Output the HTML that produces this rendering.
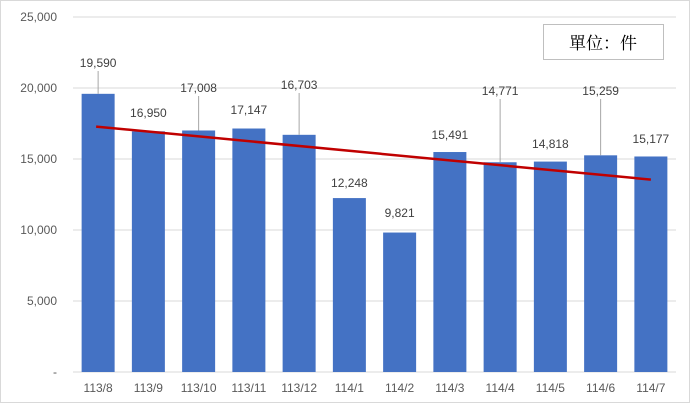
<!DOCTYPE html>
<html><head><meta charset="utf-8"><style>
body{margin:0;background:#fff}
svg{display:block;font-family:"Liberation Sans","Noto Sans CJK TC",sans-serif}
</style></head><body>
<svg width="690" height="403">
<rect x="0.5" y="0.5" width="689" height="402" fill="#fff" stroke="#d9d9d9"/>
<g id="grid"></g><g id="yt"></g><g id="bars"></g><g id="lbls"></g><g id="xt"></g>
<line id="trend" stroke="#c00000" stroke-width="2.5"/>
<g>
<rect x="543.5" y="24.5" width="120" height="35" fill="#fff" stroke="#bfbfbf"/>
<text x="603" y="49" text-anchor="middle" font-size="17" font-family="'Noto Serif CJK SC','Liberation Serif',serif" fill="#000">單位：件</text>
</g>
</svg>
<script>
const categories=["113/8","113/9","113/10","113/11","113/12","114/1","114/2","114/3","114/4","114/5","114/6","114/7"];
const values=[19590,16950,17008,17147,16703,12248,9821,15491,14771,14818,15259,15177];
const yTicks=[0,5000,10000,15000,20000,25000];
const labelY=[65,115,90,112,87,185,215,137,93,146,93,141];
const NS="http://www.w3.org/2000/svg";
const y0=372,yTop=17,x0=73,x1=676;
const y=v=>y0-(v/25000)*(y0-yTop);
const step=(x1-x0)/categories.length;
const cx=i=>x0+step*(i+0.5);
function mk(t,a,p){const e=document.createElementNS(NS,t);for(const k in a)e.setAttribute(k,a[k]);document.getElementById(p).appendChild(e);return e;}
yTicks.forEach(t=>{
 const l=mk("line",{x1:x0,x2:x1,y1:y(t),y2:y(t),stroke:"#d9d9d9"},"grid");
 
 
 const tx=mk("text",{x:57,y:y(t)+4,"text-anchor":"end","font-size":12,fill:"#595959"},"yt");
 tx.textContent=t===0?"-":t.toLocaleString("en-US");
 
 
});
const bw=33;
values.forEach((v,i)=>{
 const r=mk("rect",{x:cx(i)-bw/2,y:y(v),width:bw,height:y0-y(v),fill:"#4472c4"},"bars");
 
 
 const ly=labelY[i];
 if(y(v)-ly>20){
  const ln=mk("line",{x1:cx(i),x2:cx(i),y1:ly+6,y2:y(v),stroke:"#a6a6a6"},"lbls");
  
  
 }
 const t=mk("text",{x:cx(i),y:ly+2,"text-anchor":"middle","font-size":12,fill:"#404040"},"lbls");
 t.textContent=v.toLocaleString("en-US");
 
 
 const xt=mk("text",{x:cx(i),y:392,"text-anchor":"middle","font-size":12,fill:"#595959"},"xt");
 xt.textContent=categories[i];
 
 
});
// linear regression trend
const n=values.length;let sx=0,sy=0,sxy=0,sxx=0;
values.forEach((v,i)=>{sx+=i;sy+=v;sxy+=i*v;sxx+=i*i;});
const b=(n*sxy-sx*sy)/(n*sxx-sx*sx),a=(sy-b*sx)/n;
const tr=document.getElementById("trend");
tr.setAttribute("x1",cx(0)-2);tr.setAttribute("y1",y(a));
tr.setAttribute("x2",cx(n-1));tr.setAttribute("y2",y(a+b*(n-1)));
</script>
</body></html>
